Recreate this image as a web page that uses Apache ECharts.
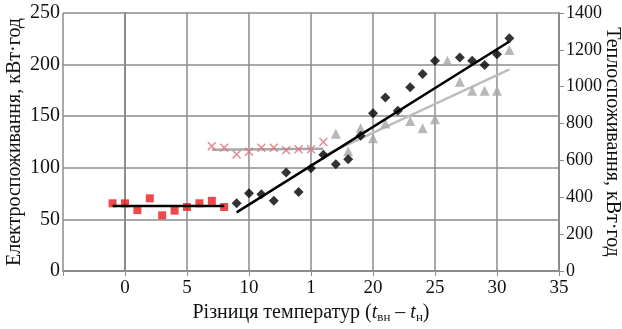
<!DOCTYPE html>
<html>
<head>
<meta charset="utf-8">
<script src="https://cdn.jsdelivr.net/npm/echarts@6/dist/echarts.min.js"></script>
<style>
  html, body { margin: 0; padding: 0; background: #fff; }
  #chart { width: 622px; height: 329px; }
</style>
</head>
<body>
<div id="chart"></div>
<script>
// red squares (електро, left axis)
var sqX = [-1, 0, 1, 2, 3, 4, 5, 6, 7, 8];
var sqY = [65.6, 65.6, 59, 70.4, 54, 58.5, 62, 65.6, 68, 62];
// red crosses (left axis)
var crX = [7, 8, 9, 10, 11, 12, 13, 14, 15, 16];
var crY = [121, 119.5, 113, 115.6, 119.5, 119.5, 117, 118, 118, 125];
// black diamonds (тепло, right axis)
var dmX = [9, 10, 11, 12, 13, 14, 15, 16, 17, 18, 19, 20, 21, 22, 23, 24, 25, 27, 28, 29, 30, 31];
var dmY = [367, 422, 416, 381, 535, 429, 557, 631, 579, 606, 734, 856, 942, 870, 997, 1069, 1141, 1159, 1141, 1118, 1176, 1263];
// gray triangles (right axis)
var trX = [17, 18, 19, 20, 21, 23, 24, 25, 26, 27, 28, 29, 30, 31];
var trY = [745, 650, 774, 720, 801, 814, 774, 823, 1141, 1027, 978, 978, 978, 1199];
// trend lines: [x0, y0, x1, y1]
var sqTrend = [-1, 63, 8, 63];
var crTrend = [7, 117.5, 16, 118.5];
var dmTrend = [9, 318, 31, 1245];
var trTrend = [16, 625, 31, 1094];

var xTicks = { min: -5, max: 35, step: 5 };
var yLeftTicks = { min: 0, max: 250, step: 50 };
var yRightTicks = { min: 0, max: 1400, step: 200 };

function zip(xs, ys) { return xs.map(function (x, i) { return [x, ys[i]]; }); }
function seg(t) { return [[t[0], t[1]], [t[2], t[3]]]; }

var font = '"Liberation Serif", "DejaVu Serif", serif';
var gridColor = '#8c8c8c';
var crossPath = 'path://M0,1.2L1.2,0L5,3.8L8.8,0L10,1.2L6.2,5L10,8.8L8.8,10L5,6.2L1.2,10L0,8.8L3.8,5Z';

var chart = echarts.init(document.getElementById('chart'));
var option = {
  animation: false,
  textStyle: { fontFamily: font },
  grid: { left: 63, right: 63, top: 13, bottom: 58, outerBoundsMode: 'none', containLabel: false },
  xAxis: {
    type: 'value',
    min: xTicks.min, max: xTicks.max, interval: xTicks.step,
    name: '{n|Різниця температур (}{i|t}{s|вн}{n| – }{i|t}{s|н}{n|)}',
    nameLocation: 'middle',
    nameGap: 31,
    nameTextStyle: {
      rich: {
        n: { fontFamily: font, fontSize: 20, color: '#111' },
        i: { fontFamily: font, fontSize: 20, fontStyle: 'italic', color: '#111' },
        s: { fontFamily: font, fontSize: 13, color: '#111', padding: [9, 0, 0, 0] }
      }
    },
    axisLine: { show: true, lineStyle: { color: gridColor, width: 2 } },
    axisTick: { show: true, length: 5, lineStyle: { color: gridColor } },
    axisLabel: {
      fontFamily: font, fontSize: 19, color: '#111', margin: 8,
      formatter: function (v) { return v === -5 ? '' : (v === 15 ? '1' : String(v)); }
    },
    splitLine: { show: true, lineStyle: { color: gridColor, width: 1.5 } }
  },
  yAxis: [{
    type: 'value', position: 'left',
    min: yLeftTicks.min, max: yLeftTicks.max, interval: yLeftTicks.step,
    name: 'Електроспоживання, кВт·год',
    nameLocation: 'middle', nameRotate: 90, nameGap: 38, nameMoveOverlap: false,
    nameTextStyle: { fontFamily: font, fontSize: 20, color: '#111' },
    axisLine: { show: true, lineStyle: { color: gridColor, width: 2 } },
    axisTick: { show: false },
    axisLabel: { fontFamily: font, fontSize: 20, color: '#111', margin: 3 },
    splitLine: { show: true, lineStyle: { color: gridColor, width: 1.5 } }
  }, {
    type: 'value', position: 'right',
    min: yRightTicks.min, max: yRightTicks.max, interval: yRightTicks.step,
    name: 'Теплоспоживання, кВт·год',
    nameLocation: 'middle', nameRotate: -90, nameGap: 43, nameMoveOverlap: false,
    nameTextStyle: { fontFamily: font, fontSize: 20, color: '#111' },
    axisLine: { show: true, lineStyle: { color: gridColor, width: 2 } },
    axisTick: { show: true, inside: false, length: 5, lineStyle: { color: gridColor } },
    axisLabel: { fontFamily: font, fontSize: 18, color: '#111', margin: 7,
      formatter: function (v) { return String(v); } },
    splitLine: { show: false }
  }],
  series: [
    { type: 'line', data: seg(crTrend), yAxisIndex: 0, symbol: 'none',
      lineStyle: { color: '#a8a8a8', width: 2.5 }, z: 2 },
    { type: 'scatter', data: zip(crX, crY), yAxisIndex: 0, symbol: crossPath,
      symbolSize: 9, itemStyle: { color: '#e0707c' }, z: 3 },
    { type: 'line', data: seg(trTrend), yAxisIndex: 1, symbol: 'none',
      lineStyle: { color: '#bdbdbd', width: 2.5 }, z: 2 },
    { type: 'scatter', data: zip(trX, trY), yAxisIndex: 1, symbol: 'triangle',
      symbolSize: 10, itemStyle: { color: '#a6a6a6' }, z: 3 },
    { type: 'line', data: seg(sqTrend), yAxisIndex: 0, symbol: 'none',
      lineStyle: { color: '#000', width: 2.5 }, z: 4 },
    { type: 'scatter', data: zip(sqX, sqY), yAxisIndex: 0, symbol: 'rect',
      symbolSize: 8, itemStyle: { color: '#ea1a1e' }, z: 3 },
    { type: 'line', data: seg(dmTrend), yAxisIndex: 1, symbol: 'none',
      lineStyle: { color: '#000', width: 2.5 }, z: 4 },
    { type: 'scatter', data: zip(dmX, dmY), yAxisIndex: 1, symbol: 'diamond',
      symbolSize: 10, itemStyle: { color: '#000' }, z: 5 }
  ]
};
chart.setOption(option);
</script>
</body>
</html>
